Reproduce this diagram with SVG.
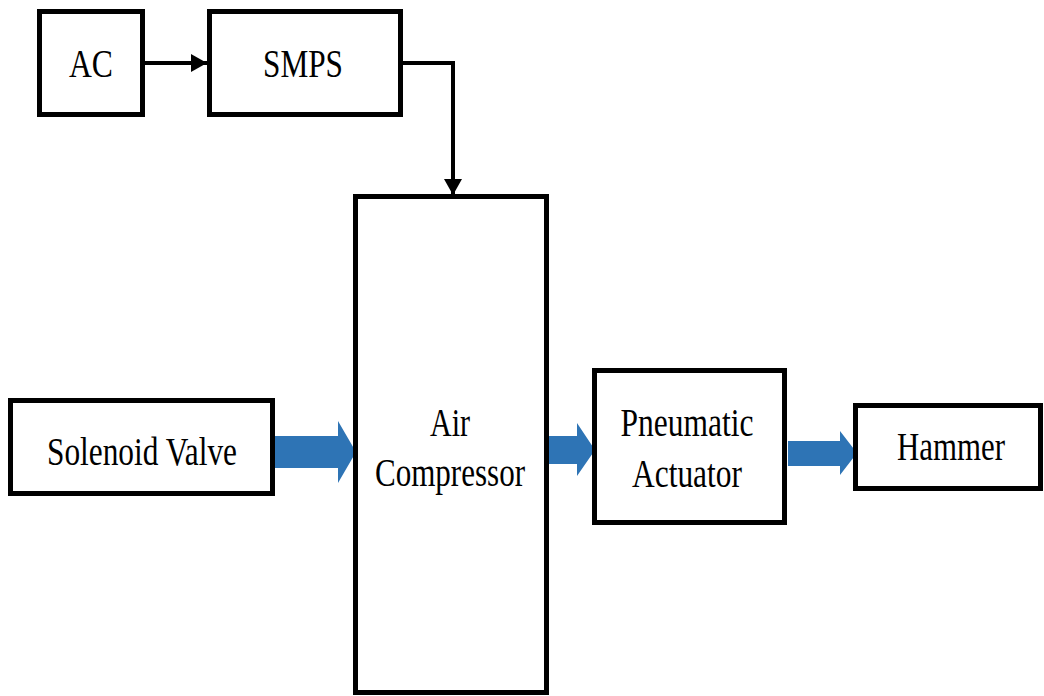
<svg xmlns="http://www.w3.org/2000/svg" width="1044" height="696" viewBox="0 0 1044 696">
<style>
.box{fill:#fff;stroke:#000;stroke-width:5}
.lbl{font-family:"Liberation Serif","Times New Roman",serif;font-size:39px;fill:#000;text-anchor:middle}
.wire{fill:none;stroke:#000;stroke-width:4}
.flow{fill:#2E74B5}
</style>
<defs>
<marker id="ah" markerUnits="userSpaceOnUse" markerWidth="16" markerHeight="18" refX="16" refY="9" orient="auto">
<path d="M0,0 L16,9 L0,18 Z" fill="#000"/>
</marker>
</defs>
<rect width="1044" height="696" fill="#fff"/>
<g id="connectors">
<path class="wire" d="M145,63 H207" marker-end="url(#ah)"/>
<path class="wire" d="M403,63 H453 V195" marker-end="url(#ah)"/>
<path class="flow" d="M274,436 H338 V421 L356,452 L338,483 V468 H274 Z"/>
<path class="flow" d="M548,436 H577 V423 L595,450 L577,476 V464 H548 Z"/>
<path class="flow" d="M788,441 H840 V431 L857,453 L840,475 V466 H788 Z"/>
</g>
<g id="ac">
<rect class="box" x="39.5" y="11.5" width="103" height="103"/>
<text class="lbl" x="91" y="77" textLength="44" lengthAdjust="spacingAndGlyphs">AC</text>
</g>
<g id="smps">
<rect class="box" x="209.5" y="11.5" width="191" height="103"/>
<text class="lbl" x="303" y="77" textLength="80" lengthAdjust="spacingAndGlyphs">SMPS</text>
</g>
<g id="air-compressor">
<rect class="box" x="355.5" y="196.5" width="191" height="496"/>
<text class="lbl" x="450" y="436" textLength="40" lengthAdjust="spacingAndGlyphs">Air</text>
<text class="lbl" x="450" y="486" textLength="150" lengthAdjust="spacingAndGlyphs">Compressor</text>
</g>
<g id="solenoid-valve">
<rect class="box" x="10.5" y="400.5" width="262" height="93"/>
<text class="lbl" x="142" y="465" textLength="190" lengthAdjust="spacingAndGlyphs">Solenoid Valve</text>
</g>
<g id="pneumatic-actuator">
<rect class="box" x="594.5" y="370.5" width="190" height="152"/>
<text class="lbl" x="687" y="436" textLength="133" lengthAdjust="spacingAndGlyphs">Pneumatic</text>
<text class="lbl" x="687" y="487" textLength="110" lengthAdjust="spacingAndGlyphs">Actuator</text>
</g>
<g id="hammer">
<rect class="box" x="855.5" y="405.5" width="185" height="83"/>
<text class="lbl" x="951" y="460" textLength="108" lengthAdjust="spacingAndGlyphs">Hammer</text>
</g>
</svg>
